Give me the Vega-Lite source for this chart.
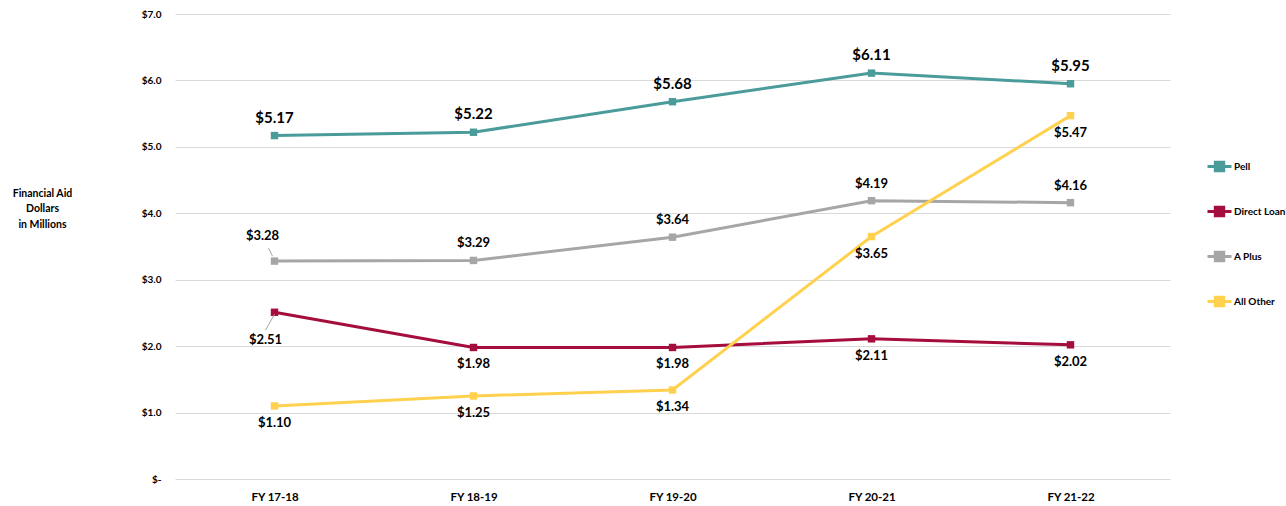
{
  "$schema": "https://vega.github.io/schema/vega-lite/v6.json",
  "width": 995,
  "height": 465,
  "autosize": {"type": "none"},
  "padding": {"left": 175, "top": 14, "right": 116, "bottom": 27},
  "background": "white",
  "config": {
    "view": {"stroke": null},
    "font": "Lato",
    "axis": {"labelFont": "Lato", "titleFont": "Lato"},
    "legend": {"labelFont": "Lato"}
  },
  "data": {
    "values": [
      {"series": "Pell", "year": "FY 17-18", "value": 5.17},
      {"series": "Pell", "year": "FY 18-19", "value": 5.22},
      {"series": "Pell", "year": "FY 19-20", "value": 5.68},
      {"series": "Pell", "year": "FY 20-21", "value": 6.11},
      {"series": "Pell", "year": "FY 21-22", "value": 5.95},
      {"series": "Direct Loan", "year": "FY 17-18", "value": 2.51},
      {"series": "Direct Loan", "year": "FY 18-19", "value": 1.98},
      {"series": "Direct Loan", "year": "FY 19-20", "value": 1.98},
      {"series": "Direct Loan", "year": "FY 20-21", "value": 2.11},
      {"series": "Direct Loan", "year": "FY 21-22", "value": 2.02},
      {"series": "A Plus", "year": "FY 17-18", "value": 3.28},
      {"series": "A Plus", "year": "FY 18-19", "value": 3.29},
      {"series": "A Plus", "year": "FY 19-20", "value": 3.64},
      {"series": "A Plus", "year": "FY 20-21", "value": 4.19},
      {"series": "A Plus", "year": "FY 21-22", "value": 4.16},
      {"series": "All Other", "year": "FY 17-18", "value": 1.10},
      {"series": "All Other", "year": "FY 18-19", "value": 1.25},
      {"series": "All Other", "year": "FY 19-20", "value": 1.34},
      {"series": "All Other", "year": "FY 20-21", "value": 3.65},
      {"series": "All Other", "year": "FY 21-22", "value": 5.47}
    ]
  },
  "encoding": {
    "x": {
      "field": "year", "type": "ordinal",
      "scale": {"type": "point", "padding": 0.5},
      "axis": {
        "title": null, "domain": false, "ticks": false, "grid": false,
        "labelAngle": 0, "labelFontSize": 11.5, "labelFontWeight": "bold",
        "labelColor": "#000000", "labelPadding": 12
      }
    },
    "y": {
      "field": "value", "type": "quantitative",
      "scale": {"domain": [0, 7], "nice": false},
      "axis": {
        "values": [0, 1, 2, 3, 4, 5, 6, 7],
        "labelExpr": "datum.value == 0 ? '$-' : '$' + format(datum.value, '.1f')",
        "domain": false, "ticks": false, "gridColor": "#D9D9D9", "gridWidth": 1,
        "labelFontSize": 10, "labelFontWeight": "bold", "labelColor": "#000000",
        "labelPadding": 14,
        "title": ["Financial Aid", "Dollars", "in Millions"],
        "titleAngle": 0, "titleAlign": "center", "titleBaseline": "top",
        "titleX": -133, "titleY": 174, "titleFontSize": 10.5, "titleFontWeight": "bold",
        "titleLineHeight": 15.5, "titleColor": "#000000"
      }
    }
  },
  "layer": [
    {
      "mark": {"type": "line", "strokeWidth": 3},
      "encoding": {
        "color": {
          "field": "series", "type": "nominal",
          "scale": {
            "domain": ["Pell", "Direct Loan", "A Plus", "All Other"],
            "range": ["#4A9C9A", "#A50D3C", "#A6A6A6", "#FFD14F"]
          },
          "legend": {
            "title": null, "orient": "none", "legendX": 1031, "legendY": 139,
            "symbolType": "M-1,0H1M-0.35,-0.35H0.35V0.35H-0.35Z",
            "symbolSize": 576, "symbolStrokeWidth": 3,
            "labelFontSize": 10, "labelFontWeight": "bold", "labelColor": "#000000",
            "labelOffset": 1, "rowPadding": 21, "padding": 0,
            "encode": {"symbols": {"update": {
              "fill": {"scale": "color", "field": "value"},
              "stroke": {"scale": "color", "field": "value"},
              "opacity": {"value": 1}
            }}}
          }
        }
      }
    },
    {
      "mark": {"type": "point", "shape": "square", "filled": true, "size": 55, "opacity": 1},
      "encoding": {
        "color": {"field": "series", "type": "nominal", "legend": null}
      }
    },
    {
      "transform": [{"filter": "datum.series == 'Pell'"}],
      "mark": {"type": "text", "dy": -18, "fontSize": 15, "fontWeight": "bold", "color": "#000000"},
      "encoding": {"text": {"field": "value", "type": "quantitative", "format": "$.2f"}}
    },
    {
      "transform": [{"filter": "datum.series == 'A Plus' && datum.year != 'FY 17-18'"}],
      "mark": {"type": "text", "dy": -17, "fontSize": 13, "fontWeight": "bold", "color": "#000000"},
      "encoding": {"text": {"field": "value", "type": "quantitative", "format": "$.2f"}}
    },
    {
      "transform": [{"filter": "datum.series == 'A Plus' && datum.year == 'FY 17-18'"}],
      "mark": {"type": "text", "dx": -12, "dy": -25, "fontSize": 13, "fontWeight": "bold", "color": "#000000"},
      "encoding": {"text": {"field": "value", "type": "quantitative", "format": "$.2f"}}
    },
    {
      "transform": [{"filter": "(datum.series == 'Direct Loan' && datum.year != 'FY 17-18') || datum.series == 'All Other'"}],
      "mark": {"type": "text", "dy": 17, "fontSize": 13, "fontWeight": "bold", "color": "#000000"},
      "encoding": {"text": {"field": "value", "type": "quantitative", "format": "$.2f"}}
    },
    {
      "transform": [{"filter": "datum.series == 'Direct Loan' && datum.year == 'FY 17-18'"}],
      "mark": {"type": "text", "dx": -9, "dy": 28, "fontSize": 13, "fontWeight": "bold", "color": "#000000"},
      "encoding": {"text": {"field": "value", "type": "quantitative", "format": "$.2f"}}
    },
    {
      "transform": [{"filter": "datum.series == 'A Plus' && datum.year == 'FY 17-18'"}],
      "mark": {"type": "rule", "color": "#A6A6A6", "strokeWidth": 1,
               "xOffset": -6, "yOffset": -13, "x2Offset": -2, "y2Offset": -5},
      "encoding": {"x2": {"field": "year"}, "y2": {"field": "value"}}
    },
    {
      "transform": [{"filter": "datum.series == 'Direct Loan' && datum.year == 'FY 17-18'"}],
      "mark": {"type": "rule", "color": "#A6A6A6", "strokeWidth": 1,
               "xOffset": 0, "yOffset": 2, "x2Offset": -9, "y2Offset": 18},
      "encoding": {"x2": {"field": "year"}, "y2": {"field": "value"}}
    }
  ]
}
